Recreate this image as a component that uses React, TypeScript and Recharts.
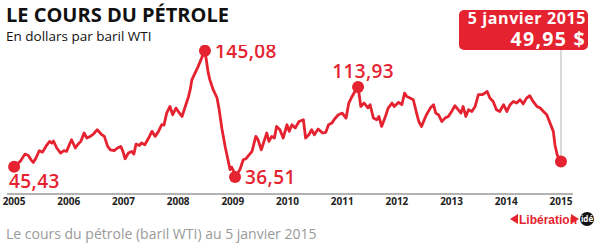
import { Line, LineChart, ReferenceLine, XAxis, YAxis } from "recharts";

// decimal year of each sample
const dates = [
  2005.0, 2005.11, 2005.2, 2005.26, 2005.31, 2005.35, 2005.4, 2005.46, 2005.52, 2005.6,
  2005.65, 2005.69, 2005.72, 2005.78, 2005.85, 2005.91, 2005.96, 2006.01, 2006.05, 2006.12,
  2006.16, 2006.22, 2006.28, 2006.33, 2006.39, 2006.45, 2006.52, 2006.59, 2006.65, 2006.71,
  2006.76, 2006.83, 2006.89, 2006.95, 2006.99, 2007.03, 2007.09, 2007.15, 2007.19, 2007.23,
  2007.29, 2007.33, 2007.39, 2007.46, 2007.52, 2007.58, 2007.64, 2007.7, 2007.74, 2007.79,
  2007.85, 2007.9, 2007.96, 2008.0, 2008.07, 2008.13, 2008.19, 2008.22, 2008.25, 2008.31,
  2008.36, 2008.44, 2008.49, 2008.55, 2008.58, 2008.64, 2008.71, 2008.75, 2008.8, 2008.86,
  2008.91, 2008.95, 2008.98, 2009.01, 2009.04, 2009.13, 2009.19, 2009.24, 2009.35, 2009.42,
  2009.46, 2009.52, 2009.58, 2009.62, 2009.66, 2009.71, 2009.76, 2009.8, 2009.86, 2009.92,
  2009.99, 2010.03, 2010.08, 2010.14, 2010.21, 2010.29, 2010.33, 2010.39, 2010.44, 2010.49,
  2010.56, 2010.64, 2010.7, 2010.75, 2010.81, 2010.86, 2010.93, 2011.0, 2011.07, 2011.12,
  2011.18, 2011.25, 2011.29, 2011.34, 2011.4, 2011.47, 2011.51, 2011.57, 2011.63, 2011.67,
  2011.72, 2011.78, 2011.84, 2011.91, 2011.95, 2012.03, 2012.09, 2012.14, 2012.18, 2012.24,
  2012.3, 2012.36, 2012.4, 2012.45, 2012.5, 2012.54, 2012.61, 2012.67, 2012.71, 2012.76,
  2012.82, 2012.88, 2012.94, 2013.0, 2013.06, 2013.12, 2013.17, 2013.21, 2013.26, 2013.31,
  2013.37, 2013.43, 2013.49, 2013.56, 2013.61, 2013.65, 2013.7, 2013.76, 2013.82, 2013.88,
  2013.95, 2014.01, 2014.07, 2014.13, 2014.19, 2014.25, 2014.31, 2014.37, 2014.43, 2014.49,
  2014.56, 2014.62, 2014.68, 2014.74, 2014.8, 2014.86, 2014.89, 2014.93, 2014.98, 2015.0,
];

// WTI price, dollars per barrel
const prices = [
  45.43, 50, 56.3, 55.1, 51.4, 49.1, 52.9, 59.2, 58, 64.3,
  67.2, 65.8, 67.5, 61.5, 57.2, 59.2, 58.6, 64.3, 68.6, 61.5,
  64.3, 67.2, 74.4, 70.1, 71.5, 73.5, 77.2, 73.5, 71.5, 62.9,
  60, 59.2, 61.5, 62.9, 58.6, 52.3, 57.2, 58.6, 56.3, 64.9,
  63.7, 65.8, 64.3, 70.1, 75.8, 71.5, 75.8, 81.5, 81.2, 91.5,
  97.2, 90.1, 95.8, 93, 88.6, 97.2, 105.8, 111.6, 120, 126,
  131, 140, 145.08, 126, 120, 111.6, 104.7, 94.4, 78, 62.6,
  51.4, 42.9, 45, 42, 36.51, 43, 51.4, 52.3, 58.6, 71.5,
  68.6, 60, 68.6, 74.4, 67.2, 71.5, 70.1, 80, 77.2, 70.1,
  81.5, 75.8, 81.5, 78.7, 84.3, 85.8, 70.1, 72.9, 77.2, 72.9,
  77.8, 74.4, 75, 81.5, 82.9, 86.4, 90.1, 91.5, 87.2, 100.1,
  105.8, 111.6, 113.93, 97.2, 100.1, 96, 98.7, 87.2, 85.8, 88.6,
  80, 87.2, 95.8, 100.1, 97.2, 100.7, 98.7, 108.7, 105.8, 104.4,
  103, 91.5, 84.3, 80, 85.8, 90.1, 95.8, 98.7, 91.5, 90.1,
  84.3, 87.2, 88.6, 92.9, 97.8, 94.4, 91.5, 97.2, 88.6, 94.4,
  92.9, 97.2, 107.3, 107.3, 108.7, 110.1, 104.4, 101.5, 94.4, 92.9,
  98.7, 92.9, 98.7, 101.5, 100.1, 103, 99.4, 104.4, 106.4, 101.5,
  97.2, 95.8, 92.9, 90.1, 83, 75.8, 64.3, 55.7, 51.4, 49.95,
];

const years = [2005, 2006, 2007, 2008, 2009, 2010, 2011, 2012, 2013, 2014, 2015];

// prices that get a dot (and a label, except the last one)
const marked = [45.43, 145.08, 36.51, 113.93, 49.95];

const data = dates.map((t, i) => ({ t, price: prices[i] }));

const RED = "#e52330";
const FONT = "'Open Sans', sans-serif";

const fmt = (v: number) => v.toFixed(2).replace(".", ",");

const labelPos: Record<number, { dx: number; dy: number; anchor: "start" | "middle" | "end" }> = {
  45.43: { dx: -5, dy: 21, anchor: "start" },
  145.08: { dx: 10, dy: 7, anchor: "start" },
  36.51: { dx: 10, dy: 7, anchor: "start" },
  113.93: { dx: 5, dy: -9, anchor: "middle" },
};

function Dot(props: any) {
  const { cx, cy, value, index } = props;
  if (!marked.includes(value)) return <g key={index} />;
  const pos = labelPos[value];
  return (
    <g key={index}>
      <circle cx={cx} cy={cy} r={6} fill={RED} />
      {pos && (
        <text
          x={cx + pos.dx}
          y={cy + pos.dy}
          textAnchor={pos.anchor}
          fill={RED}
          fontSize={19}
          fontWeight={600}
          fontFamily={FONT}
          letterSpacing={0.4}
        >
          {fmt(value)}
        </text>
      )}
    </g>
  );
}

function Logo() {
  return (
    <svg width={84} height={18} style={{ position: "absolute", left: 510, top: 210 }}>
      <polygon points="0,9 8,4 8,14" fill={RED} />
      <text x={9} y={13.5} fill={RED} fontSize={12} fontWeight={700}
        fontFamily="'Liberation Sans Narrow', sans-serif">
        Libération
      </text>
      <polygon points="61,4 61,14 69,9" fill={RED} />
      <circle cx={77} cy={9} r={7} fill="#111" />
      <text x={77} y={12} textAnchor="middle" fill="#fff" fontSize={8} fontWeight={700} fontFamily={FONT}>
        idé
      </text>
    </svg>
  );
}

export default function App() {
  const last = prices[prices.length - 1];
  return (
    <div style={{ position: "absolute", left: 0, top: 0, width: 600, height: 250, background: "#fff", fontFamily: FONT }}>
      <LineChart width={600} height={250} data={data} margin={{ top: 45, right: 27, bottom: 36, left: 7 }}>
        <XAxis
          dataKey="t"
          type="number"
          domain={[2004.87, 2015.22]}
          ticks={years}
          interval={0}
          tickLine={false}
          tickSize={0}
          axisLine={{ stroke: "#9a9a9a", strokeWidth: 1.5 }}
          tick={{ fontSize: 10, fontWeight: 700, fill: "#222", fontFamily: FONT }}
          tickMargin={4}
          height={20}
        />
        <YAxis hide domain={[22, 150]} allowDataOverflow />
        <ReferenceLine
          segment={[
            { x: 2015, y: last },
            { x: 2015, y: 146 },
          ]}
          stroke="#b5b5b5"
          strokeWidth={1}
        />
        <Line
          type="linear"
          dataKey="price"
          stroke={RED}
          strokeWidth={2.8}
          strokeLinejoin="round"
          dot={Dot}
          activeDot={false}
          isAnimationActive={false}
        />
      </LineChart>

      <div style={{ position: "absolute", left: 6, top: 5, fontSize: 20, fontWeight: 700, color: "#111", lineHeight: "20px" }}>
        LE COURS DU PÉTROLE
      </div>
      <div style={{ position: "absolute", left: 6, top: 29, fontSize: 13.5, color: "#111", lineHeight: "15px" }}>
        En dollars par baril WTI
      </div>

      <div
        style={{
          position: "absolute",
          left: 459,
          top: 10,
          width: 129,
          height: 40,
          background: RED,
          borderRadius: 5,
        }}
      />
      <div
        style={{
          position: "absolute",
          right: 14,
          top: 10,
          fontSize: 16,
          fontWeight: 700,
          lineHeight: "17px",
          color: "#fff",
          letterSpacing: 0.6,
          whiteSpace: "nowrap",
        }}
      >
        5 janvier 2015
      </div>
      <div
        style={{
          position: "absolute",
          right: 14,
          top: 29,
          fontSize: 19.5,
          fontWeight: 700,
          lineHeight: "20px",
          color: "#fff",
          letterSpacing: 1.3,
          whiteSpace: "nowrap",
        }}
      >
        {fmt(last)} $
      </div>

      <Logo />

      <div style={{ position: "absolute", left: 6, top: 226, fontSize: 14, color: "#999", lineHeight: "16px" }}>
        Le cours du pétrole (baril WTI) au 5 janvier 2015
      </div>
    </div>
  );
}
